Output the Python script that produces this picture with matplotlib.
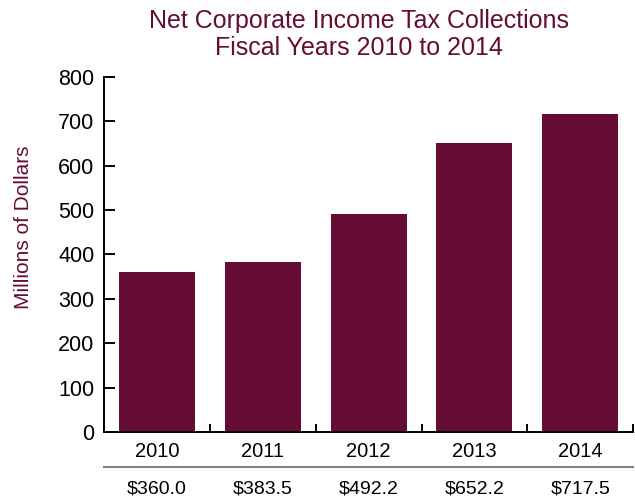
import matplotlib.pyplot as plt
import numpy as np

years = ["2010", "2011", "2012", "2013", "2014"]
collections = [360.0, 383.5, 492.2, 652.2, 717.5]
value_labels = ["$360.0", "$383.5", "$492.2", "$652.2", "$717.5"]

maroon = "#650D35"
plt.rcParams["font.family"] = ["Liberation Sans", "DejaVu Sans"]

fig = plt.figure(figsize=(6.35, 4.97), dpi=100)
ax = fig.add_axes([0.164, 0.1308, 0.833, 0.7143])

x = np.arange(len(years))
ax.bar(x, collections, width=0.72, color=maroon)

ax.set_xlim(-0.5, len(years) - 0.5)
ax.set_ylim(0, 800)
ax.set_yticks(np.arange(0, 801, 100))
ax.set_xticks(x)
ax.set_xticklabels(years)
# tick marks sit between the bars, labels stay centered
ax.set_xticks(np.arange(-0.5, len(years)), minor=True)
ax.tick_params(axis="x", which="major", length=0, pad=7, labelsize=14.5)
ax.tick_params(axis="x", which="minor", direction="in", length=6, width=1.4)
ax.tick_params(axis="y", direction="in", length=8, width=1.4, labelsize=15.5, pad=7)

for side in ["top", "right"]:
    ax.spines[side].set_visible(False)
ax.spines["left"].set_linewidth(1.4)
ax.spines["bottom"].set_linewidth(1.4)

ax.set_ylabel("Millions of Dollars", color=maroon, fontsize=15)
ax.yaxis.set_label_coords(-0.134, 0.577)
fig.suptitle("Net Corporate Income Tax Collections\nFiscal Years 2010 to 2014",
             color=maroon, fontsize=18, y=0.982, x=0.565, linespacing=1.15)

# dollar values row under the axis
ax.plot([-0.5, len(years) - 0.5], [-0.1, -0.1], transform=ax.get_xaxis_transform(),
        color="#808080", lw=1.5, clip_on=False)
for xi, lab in zip(x, value_labels):
    ax.text(xi, -0.16, lab, transform=ax.get_xaxis_transform(),
            ha="center", va="center", fontsize=14)

fig.savefig("out.png", dpi=100)
